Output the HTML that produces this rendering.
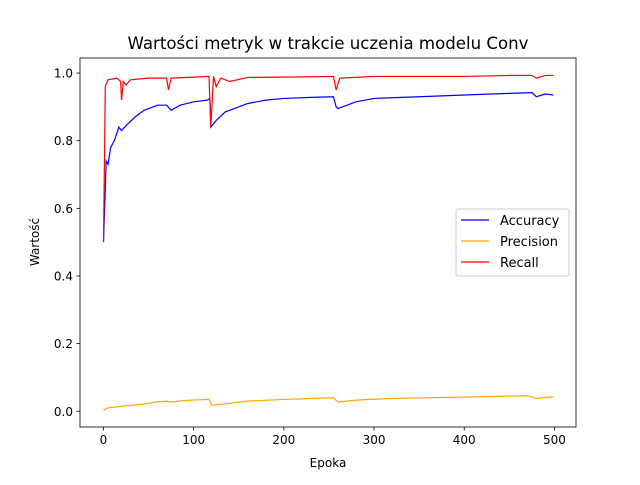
<!DOCTYPE html>
<html><head><meta charset="utf-8"><style>
body{margin:0;background:#fff}
svg text{font-family:"DejaVu Sans","Liberation Sans",sans-serif;fill:#000}
</style></head><body>
<svg width="640" height="480">
<rect width="640" height="480" fill="#fff"/>
<g id="plot"></g>
<rect x="80" y="58" width="496" height="369" fill="none" stroke="#000" stroke-width="0.8"/>
<g id="xt"></g><g id="yt"></g>
<text x="328" y="49" text-anchor="middle" font-size="16.6">Wartości metryk w trakcie uczenia modelu Conv</text>
<text x="328" y="467" text-anchor="middle" font-size="12">Epoka</text>
<text transform="translate(39,242) rotate(-90)" text-anchor="middle" font-size="12">Wartość</text>
<g>
<rect x="456" y="209" width="113" height="67" rx="2" fill="#fff" fill-opacity="0.8" stroke="#ccc"/>
<g><line x1="461" y1="220" x2="489" y2="220" stroke="#0000ff" stroke-width="1.3"/><text x="500" y="225" font-size="13">Accuracy</text></g>
<g><line x1="461" y1="241" x2="489" y2="241" stroke="#ffa500" stroke-width="1.3"/><text x="500" y="246" font-size="13">Precision</text></g>
<g><line x1="461" y1="262" x2="489" y2="262" stroke="#ff0000" stroke-width="1.3"/><text x="500" y="267" font-size="13">Recall</text></g>
</g>
</svg>
<script>
const accX=[0,3,5,8,12,17,20,27,35,45,60,70,75,85,100,115,118,119,125,135,145,160,180,200,230,255,258,260,270,280,300,350,400,450,475,480,490,499];
const accY=[0.5,0.74,0.73,0.78,0.80,0.84,0.83,0.85,0.87,0.89,0.905,0.905,0.89,0.905,0.915,0.92,0.925,0.84,0.86,0.885,0.895,0.91,0.92,0.925,0.928,0.93,0.9,0.895,0.905,0.915,0.925,0.93,0.935,0.94,0.942,0.93,0.938,0.935];
const recX=[0,2,5,15,19,20,22,25,30,50,70,72,75,100,117,119,122,125,130,140,160,200,255,258,262,300,400,450,475,480,490,499];
const recY=[0.5,0.96,0.98,0.985,0.975,0.92,0.975,0.965,0.98,0.985,0.985,0.95,0.985,0.988,0.99,0.84,0.99,0.96,0.985,0.975,0.987,0.988,0.99,0.95,0.985,0.99,0.99,0.993,0.993,0.985,0.993,0.993];
const preX=[0,5,20,40,60,70,75,90,117,120,135,160,200,255,260,280,320,400,470,480,499];
const preY=[0.003,0.01,0.015,0.02,0.028,0.03,0.027,0.032,0.035,0.018,0.022,0.03,0.035,0.04,0.027,0.033,0.038,0.042,0.046,0.038,0.043];
const xTicks=[0,100,200,300,400,500];
const yTicks=[0.0,0.2,0.4,0.6,0.8,1.0];
const xmin=-24.95,xmax=523.95,ymin=-0.0465,ymax=1.0445;
const X=v=>81+(v-xmin)/(xmax-xmin)*495;
const Y=v=>427-(v-ymin)/(ymax-ymin)*369;
const NS="http://www.w3.org/2000/svg";
const plot=document.getElementById('plot');
function line(xs,ys,c,name){
 const p=document.createElementNS(NS,'polyline');
 p.setAttribute('points',xs.map((x,i)=>X(x)+','+Y(ys[i])).join(' '));
 p.setAttribute('fill','none');p.setAttribute('stroke',c);p.setAttribute('stroke-width','1.2');
 
 
 plot.appendChild(p);
}
line(accX,accY,'#0000ff','accuracy-line');
line(preX,preY,'#ffa500','precision-line');
line(recX,recY,'#ff0000','recall-line');
const xt=document.getElementById('xt'),yt=document.getElementById('yt');
xTicks.forEach(t=>{
 const g=document.createElementNS(NS,'g');
 
 
 g.innerHTML=`<line x1="${X(t)}" y1="427" x2="${X(t)}" y2="430.5" stroke="#000" stroke-width="0.8"/><text x="${X(t)}" y="444" text-anchor="middle" font-size="12">${t}</text>`;
 xt.appendChild(g);
});
yTicks.forEach(t=>{
 const g=document.createElementNS(NS,'g');
 
 
 g.innerHTML=`<line x1="76.5" y1="${Y(t)}" x2="80" y2="${Y(t)}" stroke="#000" stroke-width="0.8"/><text x="73" y="${Y(t)+4.5}" text-anchor="end" font-size="12">${t.toFixed(1)}</text>`;
 yt.appendChild(g);
});
</script>
</body></html>
